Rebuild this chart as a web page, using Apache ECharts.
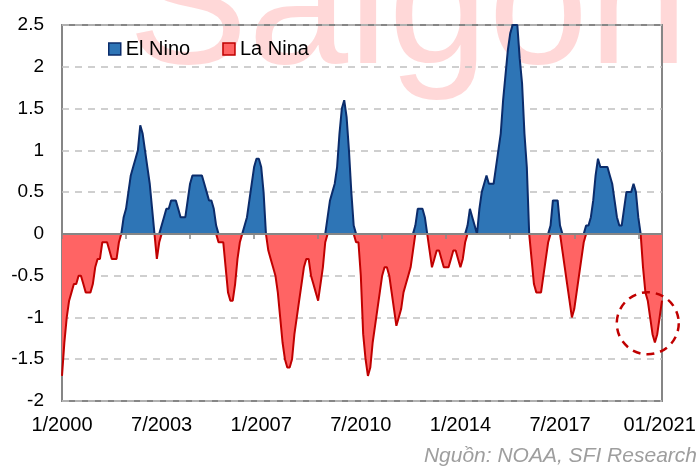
<!DOCTYPE html>
<html>
<head>
<meta charset="utf-8">
<title>El Nino / La Nina</title>
<script src="https://cdn.jsdelivr.net/npm/echarts@6/dist/echarts.min.js"></script>
<style>
    html, body { margin: 0; padding: 0; background: #fff; }
    #chart { width: 699px; height: 470px; }
</style>
</head>
<body>
<div id="chart"></div>
<script>
// ONI index, monthly, 1/2000 .. 2/2021
const startYear = 2000;
const oni = [
    -1.7, -1.3, -1.0, -0.8, -0.7, -0.6, -0.6, -0.5, -0.5, -0.6, -0.7, -0.7, // 2000
    -0.7, -0.6, -0.4, -0.3, -0.3, -0.1, -0.1, -0.1, -0.2, -0.3, -0.3, -0.3, // 2001
    -0.1, 0.0, 0.2, 0.3, 0.5, 0.7, 0.8, 0.9, 1.0, 1.3, 1.2, 1.0,           // 2002
    0.8, 0.6, 0.3, 0.0, -0.3, -0.1, 0.1, 0.2, 0.3, 0.3, 0.4, 0.4,           // 2003
    0.4, 0.3, 0.2, 0.2, 0.2, 0.4, 0.6, 0.7, 0.7, 0.7, 0.7, 0.7,             // 2004
    0.6, 0.5, 0.4, 0.4, 0.3, 0.1, -0.1, -0.1, -0.1, -0.4, -0.7, -0.8,       // 2005
    -0.8, -0.6, -0.3, -0.1, 0.0, 0.1, 0.2, 0.4, 0.6, 0.8, 0.9, 0.9,         // 2006
    0.8, 0.5, 0.0, -0.2, -0.3, -0.4, -0.5, -0.7, -1.0, -1.3, -1.5, -1.6,    // 2007
    -1.6, -1.5, -1.2, -1.0, -0.8, -0.6, -0.4, -0.3, -0.3, -0.5, -0.6, -0.7, // 2008
    -0.8, -0.6, -0.4, -0.1, 0.2, 0.4, 0.5, 0.6, 0.8, 1.2, 1.5, 1.6,         // 2009
    1.4, 1.0, 0.5, 0.1, -0.1, -0.1, -0.5, -1.2, -1.5, -1.7, -1.6, -1.3,     // 2010
    -1.1, -0.9, -0.7, -0.5, -0.4, -0.4, -0.5, -0.7, -0.9, -1.1, -1.0, -0.9, // 2011
    -0.7, -0.6, -0.5, -0.4, -0.2, 0.1, 0.3, 0.3, 0.3, 0.2, 0.0, -0.2,       // 2012
    -0.4, -0.3, -0.2, -0.2, -0.3, -0.4, -0.4, -0.4, -0.3, -0.2, -0.2, -0.3, // 2013
    -0.4, -0.3, -0.1, 0.1, 0.3, 0.2, 0.1, 0.0, 0.3, 0.5, 0.6, 0.7,          // 2014
    0.6, 0.6, 0.6, 0.8, 1.0, 1.2, 1.6, 1.9, 2.2, 2.4, 2.5, 2.5,             // 2015
    2.5, 2.1, 1.8, 1.2, 0.8, 0.0, -0.3, -0.6, -0.7, -0.7, -0.7, -0.5,       // 2016
    -0.3, -0.1, 0.1, 0.4, 0.4, 0.4, 0.1, -0.2, -0.4, -0.6, -0.8, -1.0,      // 2017
    -0.9, -0.7, -0.5, -0.3, -0.1, 0.1, 0.1, 0.2, 0.4, 0.7, 0.9, 0.8,        // 2018
    0.8, 0.8, 0.8, 0.7, 0.6, 0.4, 0.2, 0.1, 0.1, 0.3, 0.5, 0.5,             // 2019
    0.5, 0.6, 0.5, 0.2, 0.0, -0.4, -0.7, -0.8, -1.0, -1.2, -1.3, -1.2,      // 2020
    -1.0, -0.8                                                              // 2021
];

const months = oni.map((v, i) => `${i % 12 + 1}/${startYear + Math.floor(i / 12)}`);
const labelMonths = ["1/2000", "7/2003", "1/2007", "7/2010", "1/2014", "7/2017", "1/2021"];
const labelTexts = ["1/2000", "7/2003", "1/2007", "7/2010", "1/2014", "7/2017", "01/2021"];
const tickEvery = 27;

const elNino = oni.map(v => Math.max(v, 0));
const laNina = oni.map(v => Math.min(v, 0));

// the dashed circle marks the latest La Nina dip
const circleAt = [247, -1.07];

const FONT = '"Liberation Sans", Arial, sans-serif';
const BLUE = "#2E75B6", BLUE_LINE = "#0B2C6B";
const RED = "#FF6464", RED_LINE = "#C00000";
const AXIS_GREY = "#868686";

const chart = echarts.init(document.getElementById("chart"));

chart.setOption({
    animation: false,
    textStyle: { fontFamily: FONT },
    grid: {
        left: 62, right: 37, top: 25, bottom: 69,
        outerBoundsMode: "none",
        show: true,
        borderColor: AXIS_GREY,
        borderWidth: 2
    },
    legend: {
        left: 108,
        top: 39,
        padding: 0,
        itemWidth: 12,
        itemHeight: 12,
        itemGap: 32,
        itemTextGap: 5,
        selectedMode: false,
        textStyle: { fontSize: 20, color: "#000", fontFamily: FONT },
        data: [
            { name: "El Nino", icon: "rect", itemStyle: { color: BLUE, borderColor: BLUE_LINE, borderWidth: 1.5 } },
            { name: "La Nina", icon: "rect", itemStyle: { color: RED, borderColor: RED_LINE, borderWidth: 1.5 } }
        ]
    },
    xAxis: [
        {
            type: "category",
            data: months,
            boundaryGap: false,
            position: "bottom",
            axisLine: { show: false, onZero: false },
            axisTick: { show: false },
            splitLine: { show: false },
            axisLabel: {
                interval: (index, value) => labelMonths.includes(value),
                formatter: value => labelTexts[labelMonths.indexOf(value)],
                fontSize: 20,
                color: "#000",
                margin: 14,
                fontFamily: FONT
            }
        },
        {
            type: "category",
            data: months,
            boundaryGap: false,
            position: "bottom",
            z: 5,
            axisLine: { show: true, onZero: true, lineStyle: { color: AXIS_GREY, width: 2 } },
            axisTick: {
                show: true,
                interval: index => index % tickEvery === 0,
                length: 5,
                lineStyle: { color: AXIS_GREY, width: 1.5 }
            },
            axisLabel: { show: false },
            splitLine: { show: false }
        }
    ],
    yAxis: {
        type: "value",
        min: -2,
        max: 2.5,
        interval: 0.5,
        axisLine: { show: false },
        axisTick: { show: false },
        axisLabel: { fontSize: 19, color: "#000", margin: 18, fontFamily: FONT },
        splitLine: { lineStyle: { color: "#c0c0c0", width: 1.5, type: [7, 6] } }
    },
    series: [
        {
            name: "El Nino",
            type: "line",
            data: elNino,
            symbol: "none",
            color: BLUE,
            lineStyle: { color: BLUE_LINE, width: 2 },
            areaStyle: { color: BLUE, opacity: 1 },
            z: 3
        },
        {
            name: "La Nina",
            type: "line",
            data: laNina,
            symbol: "none",
            color: RED,
            lineStyle: { color: RED_LINE, width: 2 },
            areaStyle: { color: RED, opacity: 1 },
            z: 3
        }
    ],
    graphic: [
        {
            id: "watermark",
            type: "text",
            z: -10,
            x: 128,
            y: 13,
            silent: true,
            style: {
                text: "Saigon",
                font: '180px "Liberation Sans", Arial, sans-serif',
                fill: "rgba(255, 60, 60, 0.2)",
                verticalAlign: "middle"
            }
        },
        {
            id: "source",
            type: "text",
            right: 2,
            top: 446,
            style: {
                text: "Nguồn: NOAA, SFI Research",
                font: 'italic 21px "Liberation Sans", Arial, sans-serif',
                fill: "#9e9e9e"
            }
        }
    ]
});

const [cx, cy] = chart.convertToPixel({ xAxisIndex: 0, yAxisIndex: 0 }, circleAt);
chart.setOption({
    graphic: [
        {
            id: "circle",
            type: "circle",
            z: 20,
            silent: true,
            shape: { cx: cx, cy: cy, r: 31 },
            style: { fill: "none", stroke: RED_LINE, lineWidth: 2.5, lineDash: [8, 6] }
        }
    ]
});

window.addEventListener("resize", () => chart.resize());
</script>
</body>
</html>
